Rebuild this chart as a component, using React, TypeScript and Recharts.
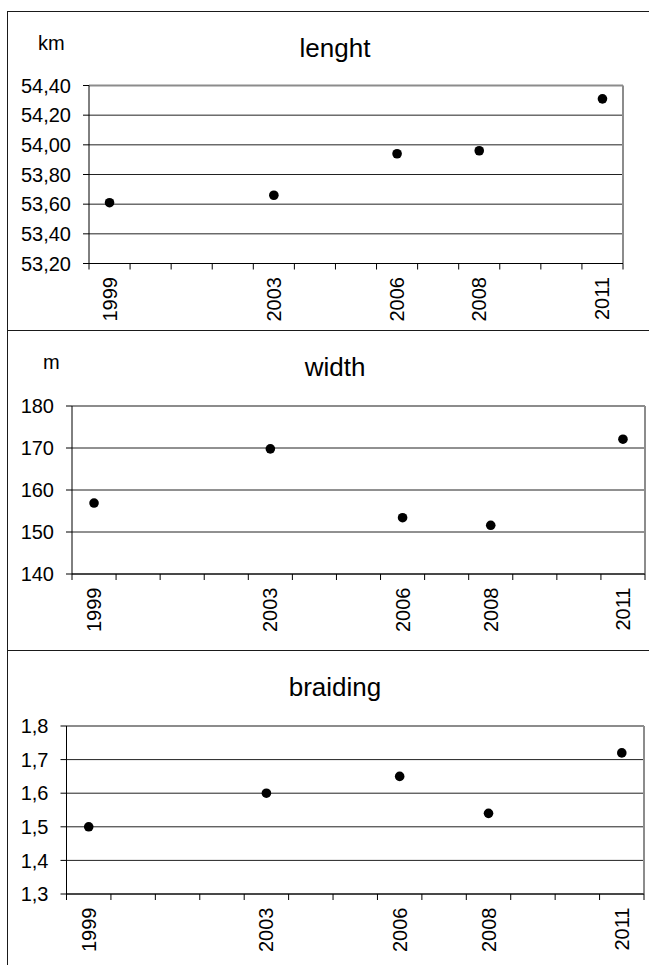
import React from "react";
import {
  ScatterChart,
  Scatter,
  XAxis,
  YAxis,
  CartesianGrid,
  ReferenceLine,
} from "recharts";

const years = [1999, 2003, 2006, 2008, 2011];
const lengthKm = [53.61, 53.66, 53.94, 53.96, 54.31];
const widthM = [156.9, 169.8, 153.4, 151.6, 172.1];
const braiding = [1.5, 1.6, 1.65, 1.54, 1.72];

const lengthTicks = [53.2, 53.4, 53.6, 53.8, 54.0, 54.2, 54.4];
const widthTicks = [140, 150, 160, 170, 180];
const braidingTicks = [1.3, 1.4, 1.5, 1.6, 1.7, 1.8];

// category slots 1999..2011, tick marks sit between them
const slotEdges = Array.from({ length: 14 }, (_, i) => 1998.5 + i);

const FONT = '"Liberation Sans", Arial, sans-serif';

const comma = (digits: number) => (v: number) =>
  v.toFixed(digits).replace(".", ",");

const YearTick = (props: any) => {
  const { x, y, payload } = props;
  const v = payload.value as number;
  if (!Number.isInteger(v)) {
    return <line x1={x} x2={x} y1={y} y2={y + 6} stroke="#000" strokeWidth={1} />;
  }
  const ty = y + 13.5;
  return (
    <text
      x={x}
      y={ty}
      transform={`rotate(-90, ${x}, ${ty})`}
      textAnchor="end"
      dominantBaseline="central"
      fontSize={20}
      fontFamily={FONT}
      fill="#000"
    >
      {v}
    </text>
  );
};

interface PanelProps {
  top: number;
  height: number;
  plotLeft: number;
  plotRight: number;
  plotTop: number;
  plotBottom: number;
  title: string;
  unit?: string;
  unitLeft?: number;
  values: number[];
  yTicks: number[];
  fmt: (v: number) => string;
}

function Panel(p: PanelProps) {
  const data = years.map((year, i) => ({ year, value: p.values[i] }));
  const yMin = p.yTicks[0];
  const yMax = p.yTicks[p.yTicks.length - 1];
  return (
    <>
      <div
        style={{
          position: "absolute",
          left: 335 - 150,
          width: 300,
          top: p.top + 46 - 22,
          fontSize: 26,
          lineHeight: "26px",
          textAlign: "center",
          fontFamily: FONT,
        }}
      >
        {p.title}
      </div>
      {p.unit && (
        <div
          style={{
            position: "absolute",
            left: p.unitLeft,
            top: p.top + 22,
            fontSize: 20,
            lineHeight: "20px",
            fontFamily: FONT,
          }}
        >
          {p.unit}
        </div>
      )}
      <div style={{ position: "absolute", left: 0, top: p.top }}>
        <ScatterChart
          width={649}
          height={p.height}
          margin={{
            top: p.plotTop - p.top,
            right: 649 - p.plotRight,
            bottom: 0,
            left: 0,
          }}
        >
          <CartesianGrid vertical={false} stroke="#222" strokeWidth={1} />
          <XAxis
            dataKey="year"
            type="number"
            domain={[1998.5, 2011.5]}
            ticks={[...slotEdges, ...years]}
            interval={0}
            tickSize={0}
            tickMargin={0}
            tickLine={false}
            tick={<YearTick />}
            height={p.top + p.height - p.plotBottom}
            axisLine={{ stroke: "#000" }}
          />
          <YAxis
            dataKey="value"
            type="number"
            domain={[yMin, yMax]}
            ticks={p.yTicks}
            interval={0}
            width={p.plotLeft}
            tickSize={6}
            tickMargin={12}
            tickFormatter={p.fmt}
            tick={{ fontSize: 20, fill: "#000", fontFamily: FONT }}
            axisLine={{ stroke: "#000" }}
            tickLine={{ stroke: "#000" }}
          />
          <ReferenceLine y={yMax} stroke="#8c8c8c" strokeWidth={2} />
          <ReferenceLine x={2011.5} stroke="#8c8c8c" strokeWidth={2} />
          <Scatter
            data={data}
            isAnimationActive={false}
            shape={(s: any) => <circle cx={s.cx} cy={s.cy} r={4.8} fill="#000" />}
          />
        </ScatterChart>
      </div>
    </>
  );
}

const line = (style: React.CSSProperties) => (
  <div style={{ position: "absolute", background: "#1a1a1a", ...style }} />
);

export default function App() {
  return (
    <div
      style={{
        position: "absolute",
        left: 0,
        top: 0,
        width: 649,
        height: 965,
        background: "#fff",
        overflow: "hidden",
      }}
    >
      <Panel
        top={11}
        height={319}
        plotLeft={89}
        plotRight={623}
        plotTop={85.5}
        plotBottom={263.5}
        title="lenght"
        unit="km"
        unitLeft={38}
        values={lengthKm}
        yTicks={lengthTicks}
        fmt={comma(2)}
      />
      <Panel
        top={330}
        height={320}
        plotLeft={72}
        plotRight={645}
        plotTop={406}
        plotBottom={574}
        title="width"
        unit="m"
        unitLeft={43}
        values={widthM}
        yTicks={widthTicks}
        fmt={(v) => String(v)}
      />
      <Panel
        top={650}
        height={315}
        plotLeft={66.5}
        plotRight={644}
        plotTop={726}
        plotBottom={894}
        title="braiding"
        values={braiding}
        yTicks={braidingTicks}
        fmt={comma(1)}
      />
      {line({ left: 7, top: 11, width: 642, height: 1 })}
      {line({ left: 7, top: 11, width: 1, height: 954 })}
      {line({ left: 7, top: 330, width: 642, height: 1 })}
      {line({ left: 7, top: 650, width: 642, height: 1 })}
    </div>
  );
}
